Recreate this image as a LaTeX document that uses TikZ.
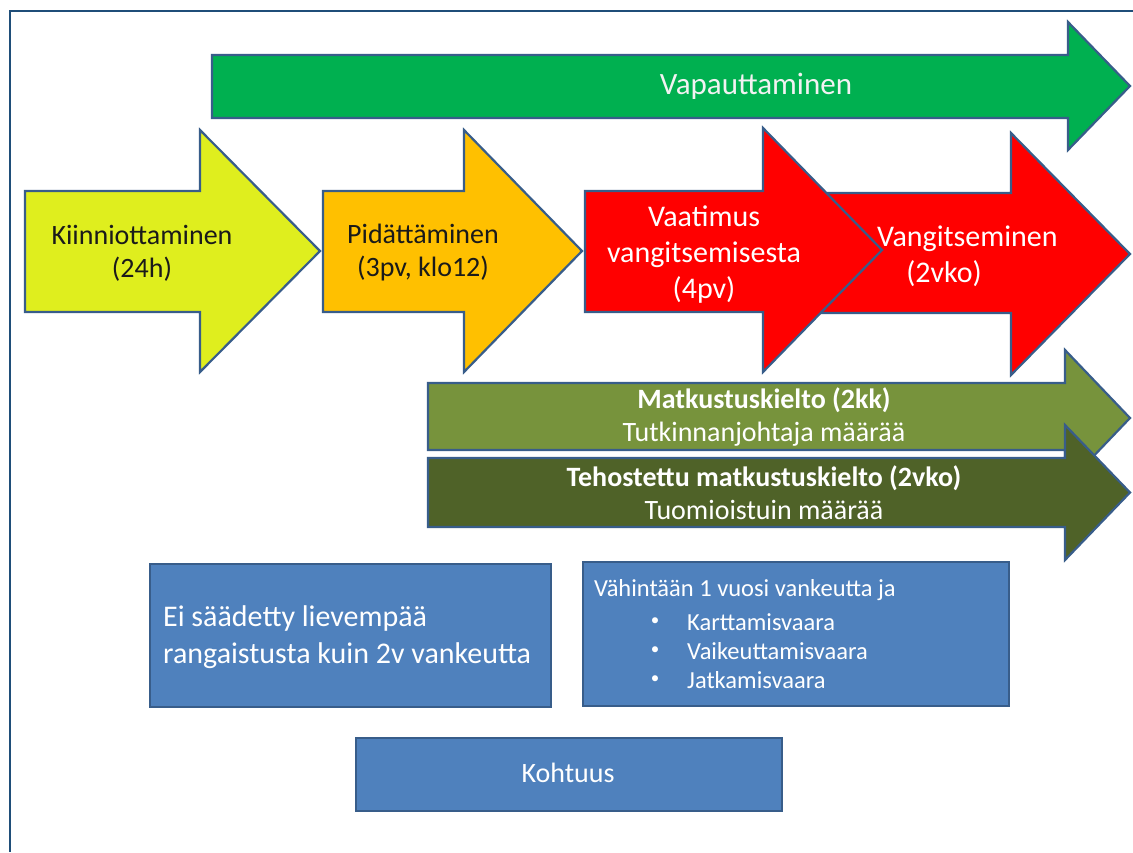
\documentclass[tikz,border=0pt]{standalone}
\usepackage{fontspec}
\setmainfont{Carlito}
\definecolor{vgreen}{HTML}{00B050}
\definecolor{kyellow}{HTML}{DFEE1E}
\definecolor{porange}{HTML}{FFC000}
\definecolor{vred}{HTML}{FF0000}
\definecolor{oliveA}{HTML}{77933C}
\definecolor{oliveB}{HTML}{4F6228}
\definecolor{boxblue}{HTML}{4F81BD}
\definecolor{edgeblue}{HTML}{385D8A}
\definecolor{framec}{HTML}{1F4E79}
\definecolor{darktext}{HTML}{1A1A1A}
\newcommand{\rarrow}[8]{%
  \draw[arrowshape, fill=#1] (#2,#5) -- (#3,#5) -- (#3,#7) -- (#4,{(#7+#8)/2}) -- (#3,#8) -- (#3,#6) -- (#2,#6) -- cycle;}
\begin{document}
\begin{tikzpicture}[x=1pt,y=-1pt,
  arrowshape/.style={draw=edgeblue, line width=2.2pt, line join=miter},
  bluebox/.style={draw=edgeblue, fill=boxblue, line width=2.2pt, inner sep=0pt, anchor=north west},
  lbl/.style={inner sep=0pt, align=center, font=\fontsize{28}{33}\selectfont},
  boxtxt/.style={inner sep=0pt, text=white}
]
\useasboundingbox (0,0) rectangle (1133,852);
\fill[white] (0,0) rectangle (1133,852);
\draw[framec, line width=1.5pt] (1133,11) -- (10,11) -- (10,852);

% arrows
\rarrow{vgreen}{212}{1068}{1130}{55}{118}{22}{150}
\node[lbl, text=white!95!black, font=\fontsize{31}{36}\selectfont] (vap) at (756,86) {Vapauttaminen};

\rarrow{kyellow}{25}{200}{320}{191}{312}{130}{372}
\node[lbl, text=darktext] (kii) at (142,253) {Kiinniottaminen\\(24h)};

\rarrow{porange}{323}{464}{582}{191}{312}{130}{372}
\node[lbl, text=darktext] (pid) at (423,253) {Pidättäminen\\(3pv, klo12)};

\rarrow{vred}{790}{1011}{1130}{193}{313}{133}{375}
\rarrow{vred}{585}{763}{882}{191}{312}{128}{372}
\node[lbl, text=white, font=\fontsize{30}{36}\selectfont] (vaa) at (704,255) {Vaatimus\\vangitsemisesta\\(4pv)};
\node[lbl, text=white, font=\fontsize{30}{35}\selectfont, anchor=west] (vang1) at (877,239) {Vangitseminen};
\node[lbl, text=white, font=\fontsize{30}{35}\selectfont] (vang2) at (944,274) {(2vko)};

\rarrow{oliveA}{428}{1065}{1130}{383}{450}{350}{486}
\node[lbl, text=white] (mat) at (764,417) {\textbf{Matkustuskielto (2kk)}\\Tutkinnanjohtaja määrää};

\rarrow{oliveB}{428}{1065}{1130}{458}{527}{425}{560}
\node[lbl, text=white] (teh) at (764,493) {\textbf{Tehostettu matkustuskielto (2vko)}\\Tuomioistuin määrää};

% boxes
\node[bluebox, minimum width=401pt, minimum height=143pt] (b1) at (149,563) {};
\node[boxtxt, anchor=west, align=left, font=\fontsize{30}{37}\selectfont] (b1t) at (163,637) {Ei säädetty lievempää\\rangaistusta kuin 2v vankeutta};

\node[bluebox, minimum width=426pt, minimum height=144pt] (b2) at (582,561) {};
\node[boxtxt, anchor=west, font=\fontsize{24.5}{29}\selectfont] (b2t) at (594,590) {Vähintään 1 vuosi vankeutta ja};
\node[boxtxt, font=\fontsize{17}{20}\selectfont] (bu1) at (655,622) {•};
\node[boxtxt, font=\fontsize{17}{20}\selectfont] (bu2) at (655,651) {•};
\node[boxtxt, font=\fontsize{17}{20}\selectfont] (bu3) at (655,680) {•};
\node[boxtxt, anchor=west, font=\fontsize{24.5}{29}\selectfont] (i1) at (687,622) {Karttamisvaara};
\node[boxtxt, anchor=west, font=\fontsize{24.5}{29}\selectfont] (i2) at (687,651) {Vaikeuttamisvaara};
\node[boxtxt, anchor=west, font=\fontsize{24.5}{29}\selectfont] (i3) at (687,680) {Jatkamisvaara};

\node[bluebox, minimum width=426pt, minimum height=73pt] (b3) at (355,737) {};
\node[boxtxt, font=\fontsize{28}{33}\selectfont] (b3t) at (568,773) {Kohtuus};
\end{tikzpicture}
\end{document}
